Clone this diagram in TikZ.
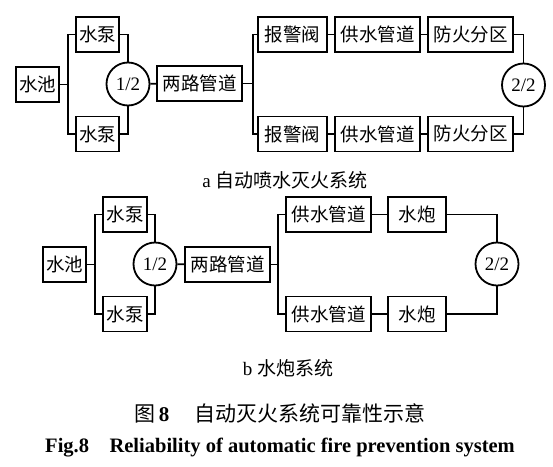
\documentclass[tikz,border=0pt]{standalone}
\usepackage{fontspec}
\setmainfont{Liberation Serif}
\newfontfamily\cjk{Noto Sans CJK SC}
\begin{document}
\begin{tikzpicture}[x=1pt,y=-1pt,
  blk/.style={draw,line width=1.8pt,inner sep=0pt,minimum height=35pt,font=\cjk\fontsize{18.5}{20}\selectfont},
  kofn/.style={draw,circle,line width=1.8pt,inner sep=0pt,minimum size=43pt,font=\fontsize{19}{20}\selectfont},
  conn/.style={line width=1.8pt},
  captxt/.style={inner sep=0pt,font=\fontsize{19}{22}\selectfont}]
\useasboundingbox[fill=white] (0,0) rectangle (553,466);
% ---- diagram a ----
\node[blk,minimum width=43pt] (poolA) at (37.5,84.5) {水池};
\node[blk,minimum width=43pt] (pumpA1) at (97.5,34.5) {水泵};
\node[blk,minimum width=43pt] (pumpA2) at (97.5,134) {水泵};
\node[kofn] (kA1) at (128,84) {1/2};
\node[blk,minimum width=85pt] (pipeA) at (199.5,83.5) {两路管道};
\node[blk,minimum width=69pt] (valveA1) at (292.5,34.5) {报警阀};
\node[blk,minimum width=69pt] (valveA2) at (292.5,134) {报警阀};
\node[blk,minimum width=85pt] (supA1) at (377.5,34.5) {供水管道};
\node[blk,minimum width=85pt] (supA2) at (377.5,134) {供水管道};
\node[blk,minimum width=85pt] (zoneA1) at (470.5,34.5) {防火分区};
\node[blk,minimum width=85pt] (zoneA2) at (470.5,134) {防火分区};
\node[kofn] (kA2) at (523.5,85) {2/2};
\coordinate (sA) at (68,84.5);
\coordinate (sB) at (253,83.5);
\draw[conn] (poolA) -- (sA);
\draw[conn] (pumpA1.west) -| (sA) |- (pumpA2.west);
\draw[conn] (pumpA1.east) -| (kA1.north);
\draw[conn] (pumpA2.east) -| (kA1.south);
\draw[conn] (kA1) -- (pipeA);
\draw[conn] (pipeA.east) -- (sB);
\draw[conn] (valveA1.west) -| (sB) |- (valveA2.west);
\draw[conn] (valveA1) -- (supA1);
\draw[conn] (supA1) -- (zoneA1);
\draw[conn] (valveA2) -- (supA2);
\draw[conn] (supA2) -- (zoneA2);
\draw[conn] (zoneA1.east) -| (kA2.north);
\draw[conn] (zoneA2.east) -| (kA2.south);
\node[captxt] (capA) at (285,180) {a {\cjk 自动喷水灭火系统}};
% ---- diagram b ----
\node[blk,minimum width=43pt] (poolB) at (64.5,264.5) {水池};
\node[blk,minimum width=44pt] (pumpB1) at (125,214.5) {水泵};
\node[blk,minimum width=44pt] (pumpB2) at (125,314) {水泵};
\node[kofn] (kB1) at (155,264) {1/2};
\node[blk,minimum width=85pt] (pipeB) at (227.5,264.5) {两路管道};
\node[blk,minimum width=85pt] (supB1) at (328.5,214.5) {供水管道};
\node[blk,minimum width=85pt] (supB2) at (328.5,314) {供水管道};
\node[blk,minimum width=58pt] (canB1) at (417,214.5) {水炮};
\node[blk,minimum width=58pt] (canB2) at (417,314) {水炮};
\node[kofn] (kB2) at (497,264) {2/2};
\coordinate (sC) at (95,264.5);
\coordinate (sD) at (278,264.5);
\draw[conn] (poolB) -- (sC);
\draw[conn] (pumpB1.west) -| (sC) |- (pumpB2.west);
\draw[conn] (pumpB1.east) -| (kB1.north);
\draw[conn] (pumpB2.east) -| (kB1.south);
\draw[conn] (kB1) -- (pipeB);
\draw[conn] (pipeB.east) -- (sD);
\draw[conn] (supB1.west) -| (sD) |- (supB2.west);
\draw[conn] (supB1) -- (canB1);
\draw[conn] (supB2) -- (canB2);
\draw[conn] (canB1.east) -| (kB2.north);
\draw[conn] (canB2.east) -| (kB2.south);
\node[captxt] (capB) at (288,368) {b {\cjk 水炮系统}};
% ---- figure captions ----
\node[inner sep=0pt,font=\cjk\fontsize{21}{24}\selectfont] (figcn) at (280,413) {图\,\textbf{\fontspec{Liberation Serif}8}\hspace{1.2em}自动灭火系统可靠性示意};
\node[inner sep=0pt,font=\bfseries\fontsize{20.5}{24}\selectfont] (figen) at (280,448) {Fig.8\hspace{1em}Reliability of automatic fire prevention system};
\end{tikzpicture}
\end{document}
